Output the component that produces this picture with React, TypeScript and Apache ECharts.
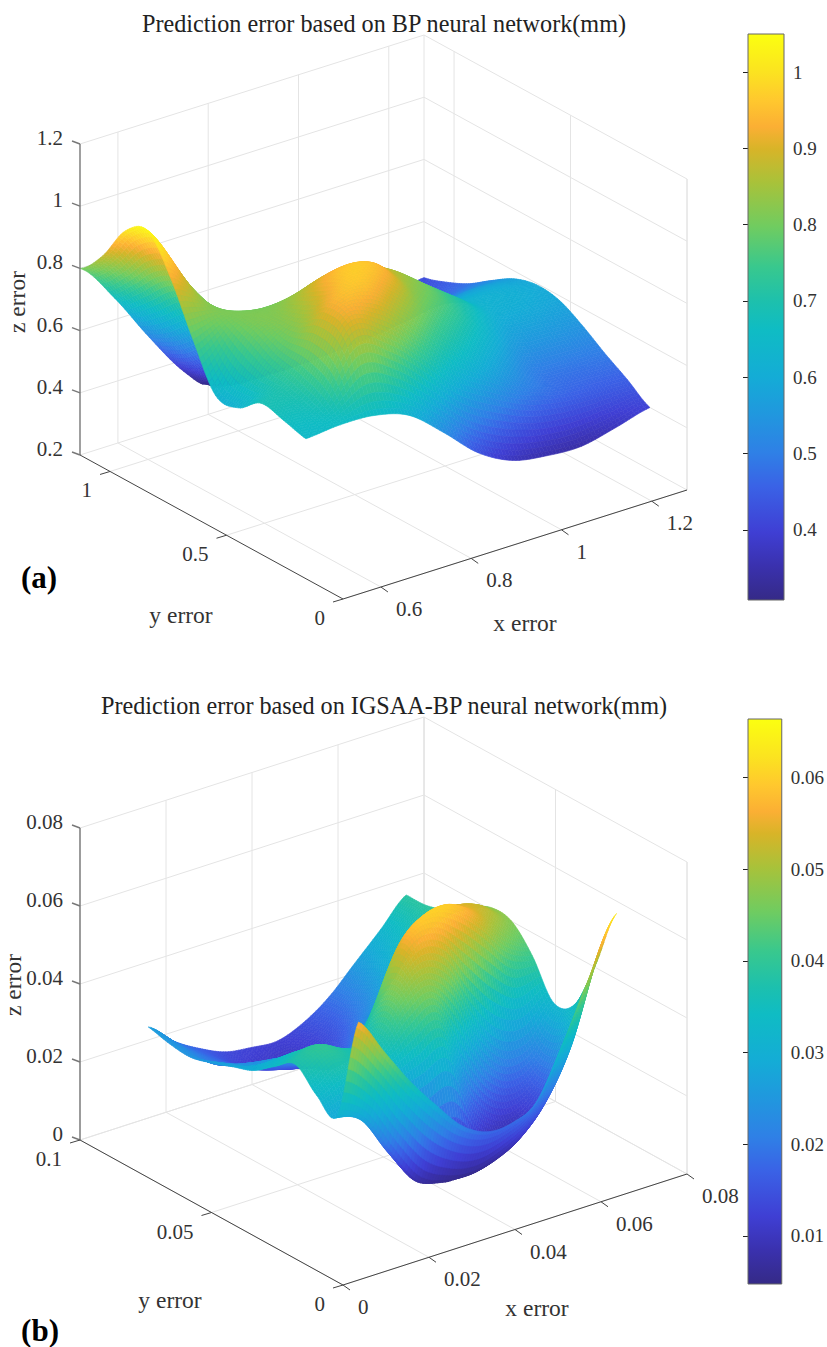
import React, { useEffect, useRef } from "react";
import * as echarts from "echarts";

// ---- values ----
const titleA = "Prediction error based on BP neural network(mm)";
const titleB = "Prediction error based on IGSAA-BP neural network(mm)";

const zTicksA = [0.2, 0.4, 0.6, 0.8, 1, 1.2];
const xTicksA = [0.6, 0.8, 1, 1.2];
const yTicksA = [0, 0.5, 1];
const barTicksA = [0.4, 0.5, 0.6, 0.7, 0.8, 0.9, 1];

const zTicksB = [0, 0.02, 0.04, 0.06, 0.08];
const xTicksB = [0, 0.02, 0.04, 0.06, 0.08];
const yTicksB = [0, 0.05, 0.1];
const barTicksB = [0.01, 0.02, 0.03, 0.04, 0.05, 0.06];

// rows run from the front edge (low y) to the back edge (high y), columns from low x to high x
const surfaceA = [
  [0.65, 0.66, 0.655, 0.62, 0.53, 0.43, 0.37, 0.35, 0.345, 0.37, 0.4],
  [0.67, 0.7, 0.88, 0.83, 0.73, 0.62, 0.55, 0.49, 0.46, 0.45, 0.45],
  [0.685, 0.73, 0.92, 0.95, 0.87, 0.76, 0.67, 0.58, 0.5, 0.49, 0.495],
  [0.63, 0.75, 0.86, 0.96, 0.95, 0.84, 0.76, 0.66, 0.57, 0.555, 0.545],
  [0.63, 0.79, 0.83, 0.9, 0.9, 0.86, 0.78, 0.7, 0.62, 0.6, 0.585],
  [0.77, 0.81, 0.8, 0.8, 0.78, 0.74, 0.7, 0.64, 0.62, 0.61, 0.595],
  [0.93, 0.82, 0.72, 0.68, 0.62, 0.58, 0.56, 0.56, 0.57, 0.58, 0.575],
  [1.04, 0.85, 0.68, 0.56, 0.5, 0.47, 0.47, 0.48, 0.5, 0.52, 0.53],
  [1.0, 0.82, 0.62, 0.48, 0.42, 0.4, 0.4, 0.42, 0.44, 0.46, 0.48],
  [0.88, 0.74, 0.55, 0.4, 0.34, 0.33, 0.34, 0.36, 0.39, 0.42, 0.445],
  [0.8, 0.67, 0.51, 0.365, 0.27, 0.3, 0.33, 0.36, 0.38, 0.4, 0.42],
];
const surfaceB = [
  [0.0573, 0.0475, 0.0378, 0.0296, 0.0222, 0.0185, 0.0188, 0.0226, 0.0356, 0.0502, 0.0638],
  [0.0305, 0.027, 0.0164, 0.0072, 0.005, 0.005, 0.0059, 0.0091, 0.0159, 0.028, 0.0476],
  [0.0326, 0.036, 0.033, 0.03, 0.032, 0.034, 0.018, 0.011, 0.012, 0.02, 0.0345],
  [0.0375, 0.04, 0.037, 0.036, 0.045, 0.05, 0.045, 0.032, 0.024, 0.024, 0.032],
  [0.034, 0.036, 0.033, 0.03, 0.042, 0.056, 0.06, 0.058, 0.052, 0.044, 0.041],
  [0.03, 0.031, 0.028, 0.024, 0.028, 0.04, 0.05, 0.0555, 0.055, 0.052, 0.047],
  [0.028, 0.026, 0.026, 0.022, 0.02, 0.026, 0.036, 0.046, 0.05, 0.05, 0.0475],
  [0.026, 0.0235, 0.022, 0.019, 0.017, 0.017, 0.024, 0.032, 0.04, 0.044, 0.0445],
  [0.0245, 0.0205, 0.018, 0.015, 0.013, 0.012, 0.017, 0.024, 0.032, 0.038, 0.041],
  [0.025, 0.0205, 0.0165, 0.0125, 0.011, 0.011, 0.014, 0.02, 0.028, 0.034, 0.039],
  [0.0263, 0.0205, 0.0165, 0.0135, 0.0125, 0.012, 0.0145, 0.019, 0.0255, 0.032, 0.0388],
];

const colorStops: [number, string][] = [
  [0, "#352a87"], [0.06, "#3a31ae"], [0.12, "#3f3fd4"], [0.2, "#3a62e6"], [0.26, "#2f80e6"],
  [0.33, "#2098de"], [0.394, "#14acd6"], [0.477, "#0fbcc4"], [0.525, "#1cc0ae"], [0.588, "#38c88e"],
  [0.66, "#70cc60"], [0.737, "#a8c23a"], [0.797, "#d8b428"], [0.836, "#fbaf34"], [0.883, "#ffc82e"],
  [0.933, "#fbe320"], [1, "#fbff10"],
];

// ---- helpers ----
const FONT = "Liberation Serif";
const TEXT = "#333333";
const MESH = 100;

const hex = (s: string) => [1, 3, 5].map((i) => parseInt(s.slice(i, i + 2), 16));
const stopRgb = colorStops.map((s) => hex(s[1]));
function colorAt(f: number) {
  const t = Math.min(1, Math.max(0, f));
  let k = 0;
  while (k < colorStops.length - 2 && colorStops[k + 1][0] < t) k++;
  const a = colorStops[k][0];
  const b = colorStops[k + 1][0];
  const w = (t - a) / (b - a);
  const c = stopRgb[k].map((v, n) => Math.round(v + (stopRgb[k + 1][n] - v) * w));
  return `rgb(${c[0]},${c[1]},${c[2]})`;
}
function cr(p0: number, p1: number, p2: number, p3: number, t: number) {
  return 0.5 * (2 * p1 + (p2 - p0) * t + (2 * p0 - 5 * p1 + 4 * p2 - p3) * t * t + (3 * p1 - p0 - 3 * p2 + p3) * t * t * t);
}
function sample(g: number[][], u: number, v: number) {
  const nr = g.length - 1;
  const nc = g[0].length - 1;
  const fu = u * nc;
  const fv = v * nr;
  const i = Math.min(nc - 1, Math.floor(fu));
  const j = Math.min(nr - 1, Math.floor(fv));
  const row = (r: number) => {
    const R = g[Math.min(nr, Math.max(0, r))];
    const c = (q: number) => R[Math.min(nc, Math.max(0, q))];
    return cr(c(i - 1), c(i), c(i + 1), c(i + 2), fu - i);
  };
  return cr(row(j - 1), row(j), row(j + 1), row(j + 2), fv - j);
}

type Panel = {
  L: number[]; F: number[]; R: number[]; H: number;
  x: number[]; y: number[]; z: number[]; sx: number[]; sy: number[];
  c: number[]; grid: number[][];
  xTicks: number[]; yTicks: number[]; zTicks: number[];
};
const panelA: Panel = {
  L: [80, 455], F: [343, 599], R: [687, 490], H: 311,
  x: [0.516, 1.278], y: [0, 1.129], z: [0.2, 1.2],
  sx: [0.516, 1.278], sy: [0.159, 1.129], c: [0.308, 1.05], grid: surfaceA,
  xTicks: xTicksA, yTicks: yTicksA, zTicks: zTicksA,
};
const panelB: Panel = {
  L: [80, 1140], F: [343, 1285], R: [687, 1174], H: 312,
  x: [0, 0.08], y: [0, 0.1], z: [0, 0.08],
  sx: [0.0128, 0.0728], sy: [0.015, 0.095], c: [0.00476, 0.0664], grid: surfaceB,
  xTicks: xTicksB, yTicks: yTicksB, zTicks: zTicksB,
};
function project(p: Panel, x: number, y: number, z: number) {
  const tx = (x - p.x[0]) / (p.x[1] - p.x[0]);
  const ty = (y - p.y[0]) / (p.y[1] - p.y[0]);
  const tz = (z - p.z[0]) / (p.z[1] - p.z[0]);
  return [
    p.F[0] + (p.R[0] - p.F[0]) * tx + (p.L[0] - p.F[0]) * ty,
    p.F[1] + (p.R[1] - p.F[1]) * tx + (p.L[1] - p.F[1]) * ty - tz * p.H,
  ];
}

function surfaceSeries(p: Panel) {
  const pts: number[][][] = [];
  const zs: number[][] = [];
  for (let i = 0; i <= MESH; i++) {
    pts.push([]);
    zs.push([]);
    for (let j = 0; j <= MESH; j++) {
      const u = i / MESH;
      const v = j / MESH;
      const z = Math.min(p.c[1], Math.max(p.c[0], sample(p.grid, u, v)));
      zs[i].push(z);
      pts[i].push(project(p, p.sx[0] + (p.sx[1] - p.sx[0]) * u, p.sy[0] + (p.sy[1] - p.sy[0]) * v, z));
    }
  }
  const cells: number[][] = [];
  for (let i = MESH - 1; i >= 0; i--) for (let j = MESH - 1; j >= 0; j--) cells.push([i, j]);
  return {
    type: "custom", coordinateSystem: "cartesian2d", xAxisIndex: 0, yAxisIndex: 0, silent: true, clip: false,
    progressive: 0, z: 5, data: cells,
    renderItem: (params: any, api: any) => {
      const [i, j] = cells[params.dataIndex];
      const q = [pts[i][j], pts[i + 1][j], pts[i + 1][j + 1], pts[i][j + 1]].map((a) => api.coord(a));
      const zm = (zs[i][j] + zs[i + 1][j] + zs[i + 1][j + 1] + zs[i][j + 1]) / 4;
      const col = colorAt((zm - p.c[0]) / (p.c[1] - p.c[0]));
      return { type: "polygon", shape: { points: q }, style: { fill: col, stroke: col, lineWidth: 0.6 } };
    },
  };
}

function linesSeries(segs: number[][][], stroke: string, width: number, z: number) {
  return {
    type: "custom", coordinateSystem: "cartesian2d", xAxisIndex: 0, yAxisIndex: 0, silent: true, clip: false,
    progressive: 0, z, data: segs.map((_, i) => [i]),
    renderItem: (params: any, api: any) => {
      const s = segs[params.dataIndex];
      const a = api.coord(s[0]);
      const b = api.coord(s[1]);
      return { type: "line", shape: { x1: a[0], y1: a[1], x2: b[0], y2: b[1] }, style: { stroke, lineWidth: width } };
    },
  };
}

type Lab = { text: string; at: number[]; align: string };
function labelSeries(labs: Lab[]) {
  return {
    type: "custom", coordinateSystem: "cartesian2d", xAxisIndex: 0, yAxisIndex: 0, silent: true, clip: false,
    z: 8, data: labs.map((_, i) => [i]),
    renderItem: (params: any, api: any) => {
      const l = labs[params.dataIndex];
      const a = api.coord(l.at);
      return {
        type: "text", x: a[0], y: a[1],
        style: { text: l.text, fill: TEXT, font: `21px "${FONT}"`, textAlign: l.align, textVerticalAlign: "middle" },
      };
    },
  };
}

function panelSeries(p: Panel) {
  const [x0, x1] = p.x;
  const [y0, y1] = p.y;
  const [z0, z1] = p.z;
  const P = (x: number, y: number, z: number) => project(p, x, y, z);
  const light: number[][][] = [];
  p.zTicks.forEach((z) => {
    light.push([P(x0, y1, z), P(x1, y1, z)], [P(x1, y1, z), P(x1, y0, z)]);
  });
  p.xTicks.forEach((x) => {
    light.push([P(x, y1, z0), P(x, y1, z1)], [P(x, y0, z0), P(x, y1, z0)]);
  });
  p.yTicks.forEach((y) => {
    light.push([P(x1, y, z0), P(x1, y, z1)], [P(x0, y, z0), P(x1, y, z0)]);
  });
  light.push([P(x1, y1, z0), P(x1, y1, z1)], [P(x1, y0, z0), P(x1, y0, z1)]);
  const off = (a: number[], dx: number, dy: number) => [a[0] + dx, a[1] + dy];
  const dark: number[][][] = [[P(x0, y0, z0), P(x1, y0, z0)], [P(x0, y0, z0), P(x0, y1, z0)]];
  p.xTicks.forEach((x) => { const a = P(x, y0, z0); dark.push([a, off(a, 7, 5)]); });
  p.yTicks.forEach((y) => { const a = P(x0, y, z0); dark.push([a, off(a, -10, 3)]); });
  const grey: number[][][] = [[P(x0, y1, z0), P(x0, y1, z1)]];
  p.zTicks.forEach((z) => { const a = P(x0, y1, z); grey.push([a, off(a, -8, -3)]); });
  const labs: Lab[] = [];
  p.zTicks.forEach((z) => { const a = P(x0, y1, z); labs.push({ text: String(z), at: off(a, -17, -6), align: "right" }); });
  p.xTicks.forEach((x) => { const a = P(x, y0, z0); labs.push({ text: String(x), at: off(a, 15, 22), align: "left" }); });
  p.yTicks.forEach((y) => { const a = P(x0, y, z0); labs.push({ text: String(y), at: off(a, -18, 19), align: "right" }); });
  return [
    linesSeries(light, "#e4e4e4", 1, 2),
    surfaceSeries(p),
    linesSeries(grey, "#777777", 1.4, 7),
    linesSeries(dark, "#444444", 1, 7),
    labelSeries(labs),
  ];
}

function barSeries(axis: number, c: number[]) {
  return {
    type: "custom", coordinateSystem: "cartesian2d", xAxisIndex: axis, yAxisIndex: axis, silent: true, z: 1,
    data: [[0, c[0], 1, c[1]]],
    renderItem: (_: any, api: any) => {
      const a = api.coord([api.value(0), api.value(1)]);
      const b = api.coord([api.value(2), api.value(3)]);
      const stops = colorStops.map((s) => ({ offset: 1 - s[0], color: s[1] }));
      stops.reverse();
      return {
        type: "rect",
        shape: { x: a[0], y: b[1], width: b[0] - a[0], height: a[1] - b[1] },
        style: { fill: new echarts.graphic.LinearGradient(0, 0, 0, 1, stops) },
      };
    },
  };
}
const barGrid = (top: number, height: number) => ({
  left: 748, top, width: 36, height, show: true, borderColor: "#666666", borderWidth: 1, backgroundColor: "transparent", z: 6,
});
const barY = (c: number[], ticks: number[], grid: number) => ({
  type: "value", gridIndex: grid, min: c[0], max: c[1], position: "right", splitLine: { show: false },
  axisLine: { show: false },
  axisTick: { show: true, inside: true, length: 5, customValues: ticks, lineStyle: { color: "#222222", width: 1 } },
  axisLabel: { show: true, customValues: ticks, margin: 9, color: TEXT, fontFamily: FONT, fontSize: 19, formatter: (v: number) => String(v) },
});
const barX = (grid: number) => ({ type: "value", gridIndex: grid, min: 0, max: 1, show: false });

const nameText = (text: string, x: number, y: number, rotation = 0) => ({
  type: "text", x, y, rotation, z: 10,
  style: { text, font: `23.5px "${FONT}"`, fill: TEXT, textAlign: "center", textVerticalAlign: "middle" },
});
const tagText = (text: string, x: number, y: number) => ({
  type: "text", x, y, z: 10,
  style: { text, font: `bold 31px "${FONT}"`, fill: "#000000", textAlign: "center", textVerticalAlign: "middle" },
});

export default function App() {
  const ref = useRef<HTMLDivElement>(null);
  useEffect(() => {
    const chart = echarts.init(ref.current!, undefined, { renderer: "svg" });
    chart.setOption({
      animation: false,
      backgroundColor: "#ffffff",
      title: [
        { text: titleA, left: 379, top: 6, textAlign: "center", textStyle: { fontFamily: FONT, fontSize: 24.2, fontWeight: "normal", color: "#222222" } },
        { text: titleB, left: 379, top: 688, textAlign: "center", textStyle: { fontFamily: FONT, fontSize: 24.2, fontWeight: "normal", color: "#222222" } },
      ],
      grid: [
        { left: 0, top: 0, width: 827, height: 1347, show: false },
        barGrid(34, 566),
        barGrid(719, 565),
      ],
      xAxis: [{ type: "value", gridIndex: 0, min: 0, max: 827, show: false }, barX(1), barX(2)],
      yAxis: [
        { type: "value", gridIndex: 0, min: 0, max: 1347, inverse: true, show: false },
        barY(panelA.c, barTicksA, 1),
        barY(panelB.c, barTicksB, 2),
      ],
      series: [...panelSeries(panelA), ...panelSeries(panelB), barSeries(1, panelA.c), barSeries(2, panelB.c)],
      graphic: [
        nameText("z error", 17, 302, Math.PI / 2),
        nameText("y error", 181, 615),
        nameText("x error", 525, 623),
        tagText("(a)", 39, 577),
        nameText("z error", 12.5, 985, Math.PI / 2),
        nameText("y error", 170, 1300),
        nameText("x error", 537, 1308),
        tagText("(b)", 40, 1330),
      ],
    });
    return () => chart.dispose();
  }, []);
  return <div ref={ref} style={{ position: "absolute", left: 0, top: 0, width: 827, height: 1347 }} />;
}
